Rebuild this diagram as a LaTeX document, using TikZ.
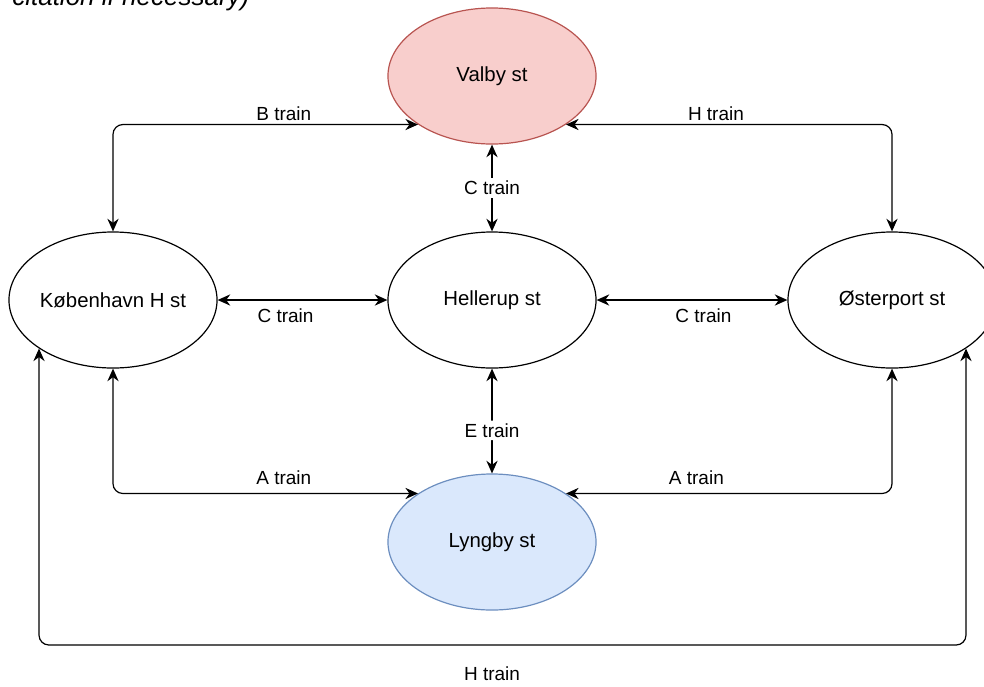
\documentclass[tikz,border=0pt]{standalone}
\usepackage{fontspec}
\setmainfont{Liberation Sans}
\usetikzlibrary{shapes.geometric,arrows.meta}
\definecolor{valbyfill}{HTML}{F8CECC}
\definecolor{valbyline}{HTML}{B85450}
\definecolor{lyngbyfill}{HTML}{DAE8FC}
\definecolor{lyngbyline}{HTML}{6C8EBF}
\begin{document}
\begin{tikzpicture}[x=0.025cm, y=-0.025cm, >={Stealth[length=9pt,width=8pt]},
  station/.style={ellipse, draw, line width=0.85pt, minimum width=5.2cm, minimum height=3.4cm, inner sep=0pt, font=\fontsize{14.5}{17}\selectfont},
  link/.style={line width=0.85pt, rounded corners=7pt, <->},
  lbl/.style={font=\fontsize{13.5}{16}\selectfont, inner sep=2pt}]
\useasboundingbox (0,0) rectangle (984,686);
\clip (0,0) rectangle (984,686);
\node[anchor=base west, inner sep=0pt, font=\itshape\fontsize{18.5}{22}\selectfont] (note) at (12,5) {citation if necessary)};

\node[station, fill=valbyfill, draw=valbyline] (valby) at (492,76) {Valby st};
\node[station] (kbh) at (113,300) {København H st};
\node[station] (hellerup) at (492,300) {Hellerup st};
\node[station] (oster) at (892,300) {Østerport st};
\node[station, fill=lyngbyfill, draw=lyngbyline] (lyngby) at (492,542) {Lyngby st};
\coordinate (hbase) at (492,645);

\draw[link] (kbh.north) |- (valby.south west) node[lbl, pos=0.78, above] {B train};
\draw[link] (valby.south east) -| (oster.north) node[lbl, pos=0.23, above] {H train};
\draw[link] (valby.south) -- (hellerup.north) node[lbl, midway, fill=white] {C train};
\draw[link] (kbh.east) -- (hellerup.west) node[lbl, pos=0.4, below=4pt] {C train};
\draw[link] (hellerup.east) -- (oster.west) node[lbl, pos=0.56, below=4pt] {C train};
\draw[link] (hellerup.south) -- (lyngby.north) node[lbl, pos=0.59, fill=white] {E train};
\draw[link] (kbh.south) |- (lyngby.north west) node[lbl, pos=0.78, above=4pt] {A train};
\draw[link] (oster.south) |- (lyngby.north east) node[lbl, pos=0.8, above=4pt] {A train};
\draw[link] (kbh.south west) |- (hbase) -| (oster.south east);
\node[lbl, below=13pt] (hlabel) at (hbase) {H train};
\end{tikzpicture}
\end{document}
